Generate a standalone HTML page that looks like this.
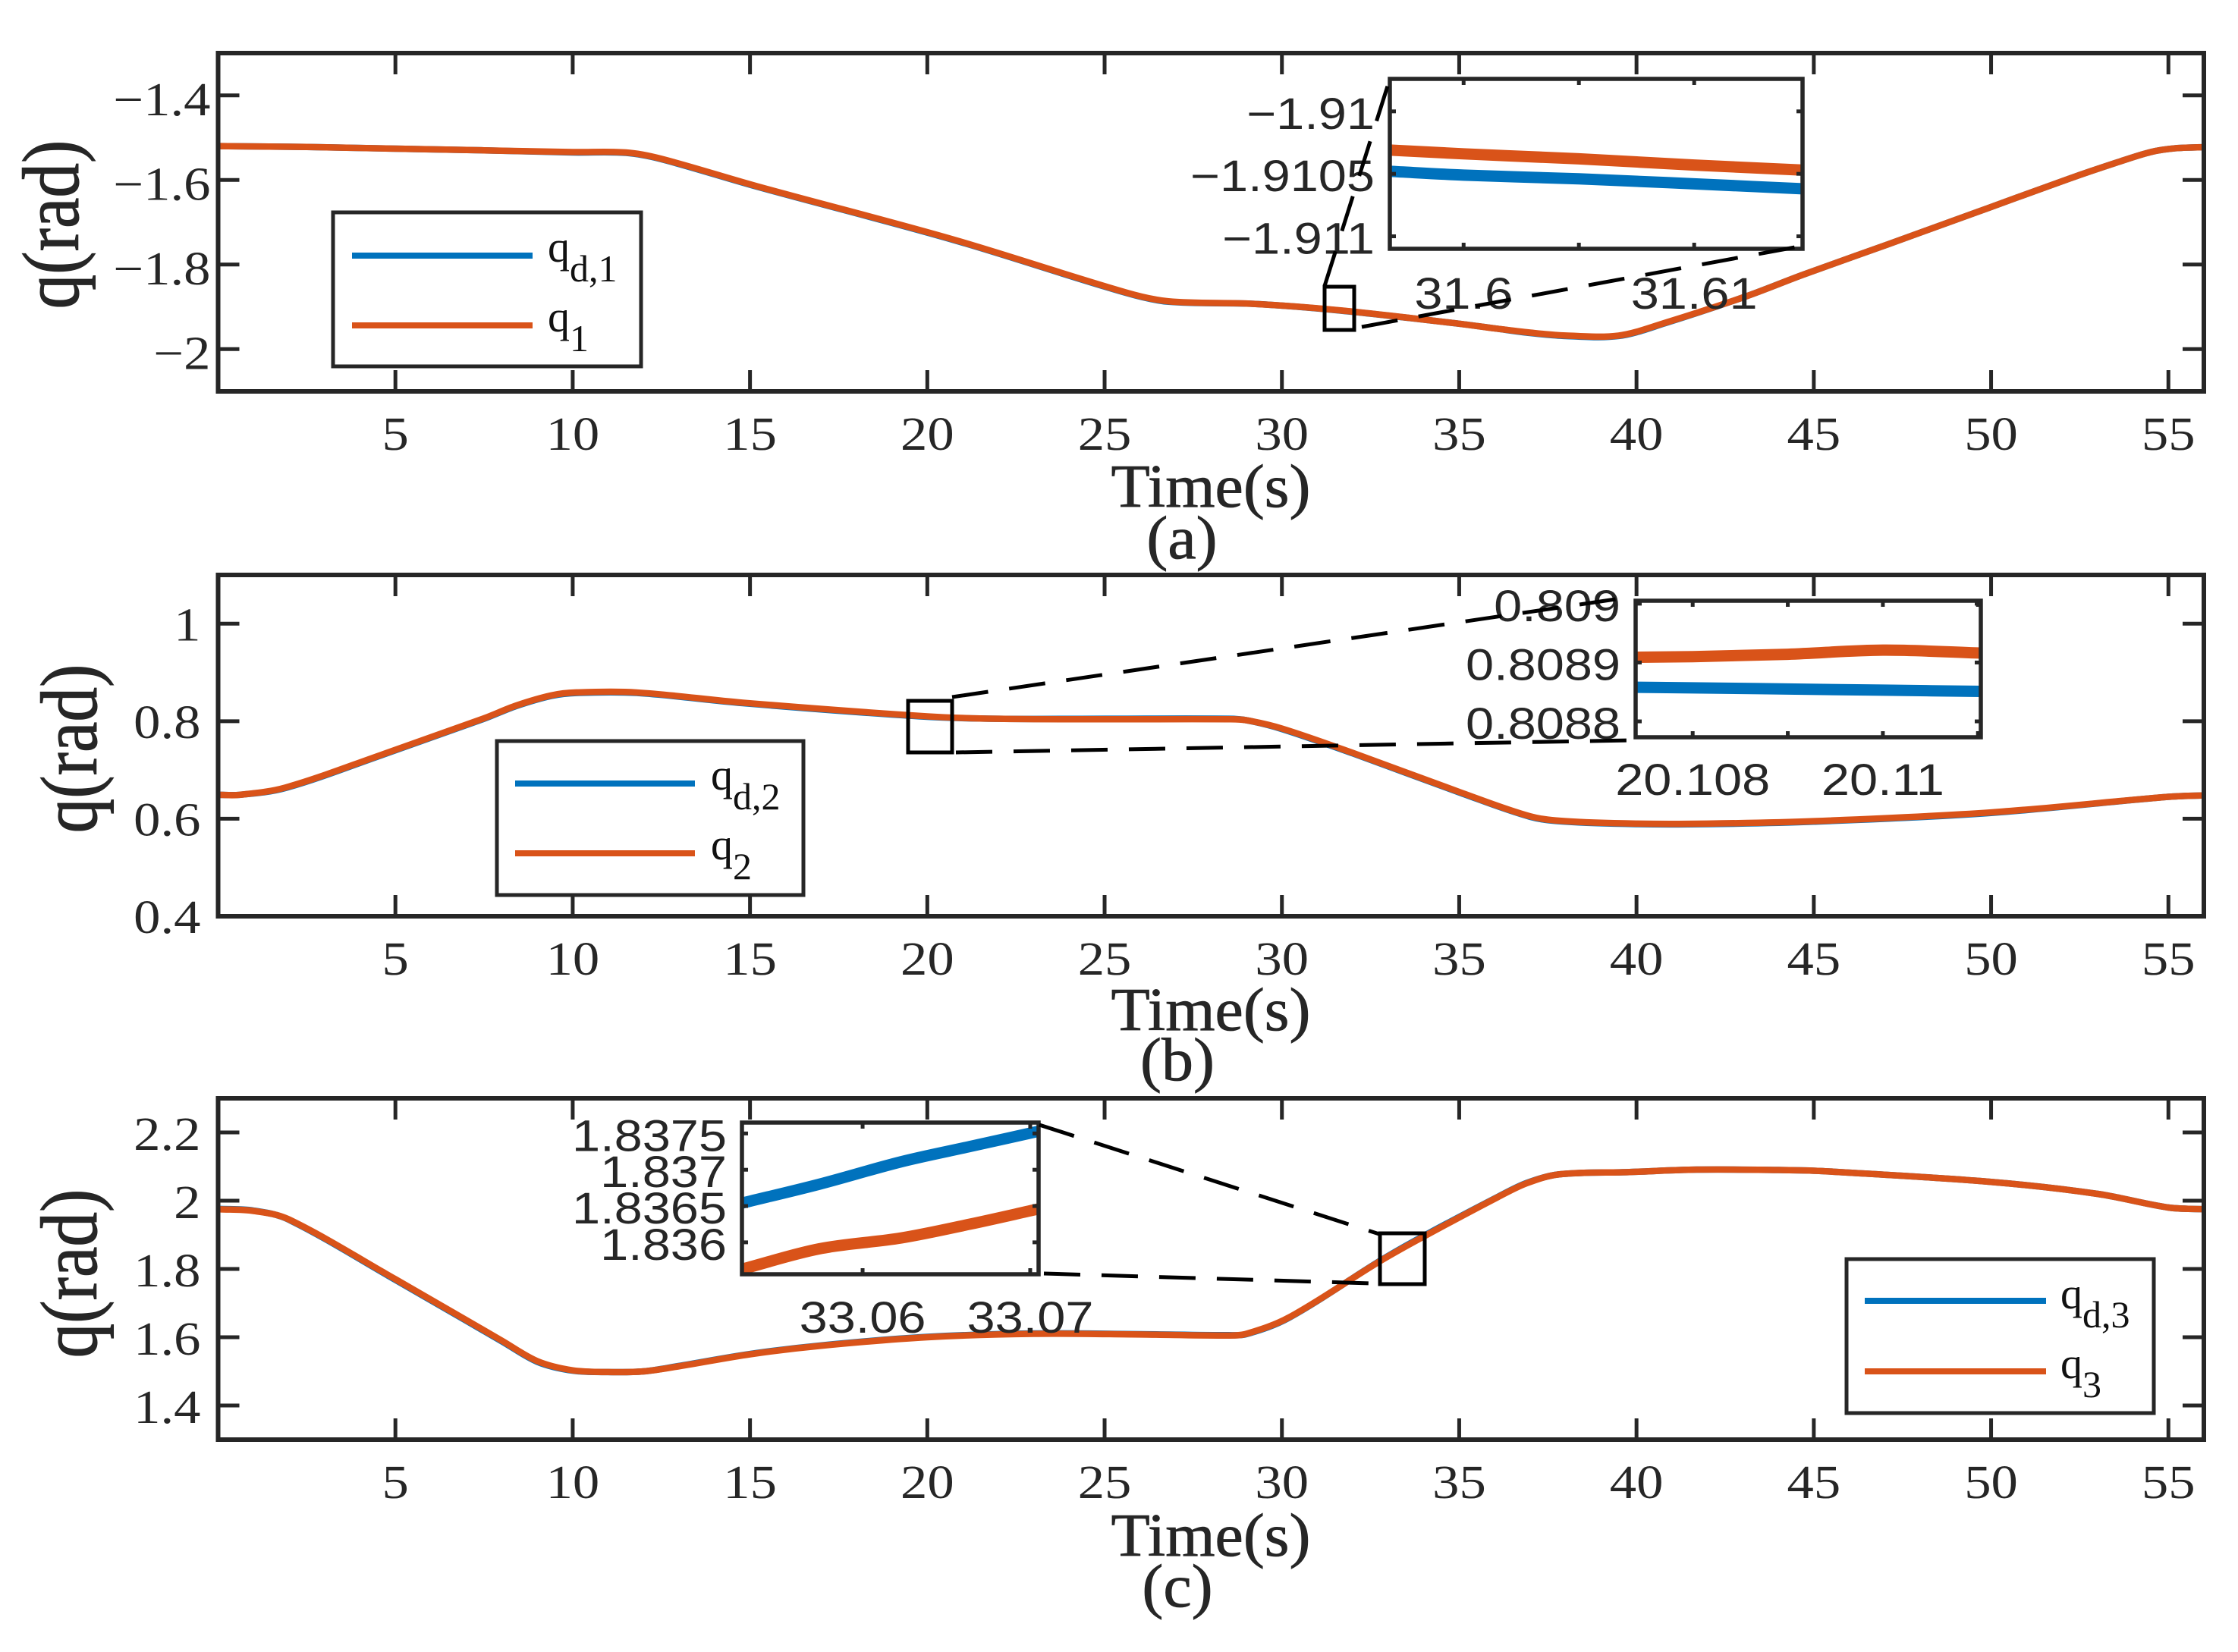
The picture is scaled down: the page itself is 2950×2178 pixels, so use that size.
<!DOCTYPE html>
<html>
<head>
<meta charset="utf-8">
<title>Joint position tracking</title>
<style>
html,body{margin:0;padding:0;background:#fff;}
svg{display:block;}
.serif{font-family:"Liberation Serif",serif;fill:#262626;}
.sans{font-family:"Liberation Sans",sans-serif;fill:#262626;}
.title{font-size:80px;stroke:#262626;stroke-width:0.8px;}
.leg{font-size:58px;fill:#111;}
.sub{font-size:50px;fill:#111;}
.dash{fill:none;stroke:#000;stroke-width:5;stroke-dasharray:48 28;}
.zoombox{fill:none;stroke:#000;stroke-width:5;}
.legbox{fill:#fff;stroke:#262626;stroke-width:5;}
</style>
</head>
<body>
<svg id="fig" xmlns="http://www.w3.org/2000/svg" width="2950" height="2178" viewBox="0 0 2950 2178">
  <rect width="2950" height="2178" fill="#fff"/>
  <g id="panels"></g>

  <g>
    <text class="serif title" transform="translate(103,296) rotate(-90) scale(1.14,1.32)" text-anchor="middle">q(rad)</text>
    <text class="serif title" transform="translate(127,987) rotate(-90) scale(1.14,1.32)" text-anchor="middle">q(rad)</text>
    <text class="serif title" transform="translate(127,1679) rotate(-90) scale(1.14,1.32)" text-anchor="middle">q(rad)</text>
    <text class="serif title" transform="translate(1596,668) scale(1.05,1)" text-anchor="middle">Time(s)</text>
    <text class="serif title" transform="translate(1596,1358) scale(1.05,1)" text-anchor="middle">Time(s)</text>
    <text class="serif title" transform="translate(1596,2051) scale(1.05,1)" text-anchor="middle">Time(s)</text>
    <text class="serif title" transform="translate(1558,736) scale(1.05,1)" text-anchor="middle">(a)</text>
    <text class="serif title" transform="translate(1552,1424) scale(1.05,1)" text-anchor="middle">(b)</text>
    <text class="serif title" transform="translate(1552,2118) scale(1.05,1)" text-anchor="middle">(c)</text>
  </g>

  <g>
    <rect class="legbox" x="439" y="280" width="406" height="203"/>
    <line x1="464" x2="702" y1="337" y2="337" stroke="#0072BD" stroke-width="8"/>
    <line x1="464" x2="702" y1="429" y2="429" stroke="#D95319" stroke-width="8"/>
    <text class="serif leg" x="722" y="345">q<tspan class="sub" dy="26">d,1</tspan></text>
    <text class="serif leg" x="722" y="437">q<tspan class="sub" dy="26">1</tspan></text>
  </g>
  <g>
    <rect class="legbox" x="655" y="977" width="404" height="203"/>
    <line x1="679" x2="916" y1="1033" y2="1033" stroke="#0072BD" stroke-width="8"/>
    <line x1="679" x2="916" y1="1125" y2="1125" stroke="#D95319" stroke-width="8"/>
    <text class="serif leg" x="937" y="1041">q<tspan class="sub" dy="26">d,2</tspan></text>
    <text class="serif leg" x="937" y="1133">q<tspan class="sub" dy="26">2</tspan></text>
  </g>
  <g>
    <rect class="legbox" x="2434" y="1660" width="405" height="203"/>
    <line x1="2458" x2="2697" y1="1715" y2="1715" stroke="#0072BD" stroke-width="8"/>
    <line x1="2458" x2="2697" y1="1808" y2="1808" stroke="#D95319" stroke-width="8"/>
    <text class="serif leg" x="2716" y="1725">q<tspan class="sub" dy="25">d,3</tspan></text>
    <text class="serif leg" x="2716" y="1817">q<tspan class="sub" dy="25">3</tspan></text>
  </g>

  <g id="insets"></g>

  <g>
    <rect class="zoombox" x="1746" y="378" width="39" height="57"/>
    <line class="dash" x1="1746" y1="377" x2="1832" y2="104"/>
    <line class="dash" x1="1795" y1="431" x2="2366" y2="326"/>
    <rect class="zoombox" x="1197" y="924" width="58" height="68"/>
    <line class="dash" x1="1255" y1="919" x2="2150" y2="787"/>
    <line class="dash" x1="1260" y1="992" x2="2148" y2="976"/>
    <rect class="zoombox" x="1819" y="1626" width="59" height="67"/>
    <line class="dash" x1="1370" y1="1483" x2="1818" y2="1627"/>
    <line class="dash" x1="1376" y1="1679" x2="1808" y2="1692"/>
  </g>
</svg>
<script>
// Shared tick labels
const timeTicks = [5,10,15,20,25,30,35,40,45,50,55];

// Panel (a)
const timeA = [0,2.5,5,7.5,10,11.5,12.5,15.2,20.7,25.6,26.8,29.2,31.6,35,36,37,38,39.5,40.8,43.1,44.7,47.1,49.9,52.2,53.5,54.5,55.2,56];
const qA    = [-1.52,-1.522,-1.526,-1.53,-1.534,-1.535,-1.55,-1.615,-1.74,-1.866,-1.887,-1.893,-1.908,-1.94,-1.951,-1.961,-1.968,-1.968,-1.938,-1.875,-1.824,-1.752,-1.667,-1.597,-1.56,-1.534,-1.525,-1.5225];
const qdA   = [-1.52,-1.522,-1.526,-1.53,-1.535,-1.536,-1.551,-1.616,-1.741,-1.867,-1.888,-1.893,-1.9085,-1.94,-1.951,-1.962,-1.969,-1.969,-1.939,-1.875,-1.824,-1.752,-1.667,-1.597,-1.56,-1.534,-1.525,-1.5225];
const yTicksA = [-2,-1.8,-1.6,-1.4];
const yLabelsA = ['\u22122','\u22121.8','\u22121.6','\u22121.4'];

// Panel (b)
const timeB = [0,0.6,1.9,4.6,7.5,8.4,9.4,10.1,11.8,14.8,20,22,25,28.5,29,30,32,35,37,38,40,42,45,50,55,56];
const qB    = [0.649,0.649,0.664,0.731,0.806,0.832,0.853,0.859,0.859,0.838,0.81,0.805,0.804,0.804,0.802,0.785,0.735,0.655,0.605,0.595,0.59,0.59,0.595,0.613,0.645,0.648];
const qdB   = [0.649,0.649,0.663,0.73,0.805,0.831,0.852,0.858,0.858,0.837,0.809,0.805,0.805,0.805,0.802,0.784,0.734,0.654,0.604,0.594,0.589,0.589,0.594,0.612,0.645,0.648];
const yTicksB = [0.4,0.6,0.8,1];
const yLabelsB = ['0.4','0.6','0.8','1'];

// Panel (c)
const timeC = [0,1,2,5,8,9,10,11,12,13,15,17,20,23,26,28.5,29,30.2,32.8,34,36.1,36.9,37.8,39.8,41.7,44,45.2,50,53,55,56];
const qC    = [1.975,1.97,1.945,1.77,1.59,1.53,1.503,1.498,1.50,1.515,1.55,1.575,1.60,1.61,1.608,1.605,1.61,1.658,1.825,1.895,2.011,2.051,2.077,2.084,2.091,2.09,2.087,2.055,2.02,1.98,1.975];
const qdC   = [1.976,1.971,1.944,1.768,1.588,1.528,1.502,1.498,1.50,1.516,1.551,1.576,1.601,1.611,1.609,1.606,1.609,1.657,1.826,1.897,2.012,2.052,2.077,2.084,2.091,2.09,2.087,2.055,2.02,1.98,1.975];
const yTicksC = [1.4,1.6,1.8,2,2.2];
const yLabelsC = ['1.4','1.6','1.8','2','2.2'];

// Inset (a)
const insetTimeA  = [31.5968,31.6,31.605,31.61,31.6147];
const insetQA     = [-1.91031,-1.91034,-1.91038,-1.91043,-1.91047];
const insetQdA    = [-1.91048,-1.91051,-1.91054,-1.91058,-1.91062];
const insetXTicksA = [31.6,31.605,31.61];
const insetXLabelsA = ['31.6','','31.61'];
const insetYTicksA = [-1.911,-1.9105,-1.91];
const insetYLabelsA = ['\u22121.911','\u22121.9105','\u22121.91'];

// Inset (b)
const insetTimeB  = [20.1074,20.108,20.109,20.11,20.11103];
const insetQB     = [0.808909,0.80891,0.808914,0.808921,0.808916];
const insetQdB    = [0.808858,0.808857,0.808855,0.808853,0.808851];
const insetXTicksB = [20.108,20.109,20.11,20.111];
const insetXLabelsB = ['20.108','','20.11',''];
const insetYTicksB = [0.8088,0.8089,0.809];
const insetYLabelsB = ['0.8088','0.8089','0.809'];

// Inset (c)
const insetTimeC  = [33.0528,33.0574,33.0623,33.0664,33.0705];
const insetQC     = [1.83563,1.83591,1.83606,1.83625,1.83646];
const insetQdC    = [1.83654,1.8368,1.83711,1.83732,1.83753];
const insetXTicksC = [33.06,33.07];
const insetXLabelsC = ['33.06','33.07'];
const insetYTicksC = [1.836,1.8365,1.837,1.8375];
const insetYLabelsC = ['1.836','1.8365','1.837','1.8375'];

const NS = 'http://www.w3.org/2000/svg';
const INK = '#262626', BLUE = '#0072BD', ORANGE = '#D95319';

function node(tag, parent, name) {
  const el = document.createElementNS(NS, tag);
  
  
  parent.appendChild(el);
  return el;
}
function scale(d0, d1, r0, r1) {
  return v => r0 + (v - d0) / (d1 - d0) * (r1 - r0);
}
function smoothPath(xs, ys) {
  let d = 'M' + xs[0].toFixed(2) + ' ' + ys[0].toFixed(2);
  for (let i = 0; i < xs.length - 1; i++) {
    const a = Math.max(i - 1, 0), b = Math.min(i + 2, xs.length - 1);
    const dx = xs[i + 1] - xs[i];
    const m1 = (ys[i + 1] - ys[a]) / (xs[i + 1] - xs[a]);
    const m2 = (ys[b] - ys[i]) / (xs[b] - xs[i]);
    d += ' C' + (xs[i] + dx / 3).toFixed(2) + ' ' + (ys[i] + m1 * dx / 3).toFixed(2) + ' ' +
         (xs[i + 1] - dx / 3).toFixed(2) + ' ' + (ys[i + 1] - m2 * dx / 3).toFixed(2) + ' ' +
         xs[i + 1].toFixed(2) + ' ' + ys[i + 1].toFixed(2);
  }
  return d;
}
function tick(g, name, x1, y1, x2, y2, w) {
  const l = node('line', g, name);
  l.setAttribute('x1', x1); l.setAttribute('y1', y1);
  l.setAttribute('x2', x2); l.setAttribute('y2', y2);
  l.setAttribute('stroke', INK); l.setAttribute('stroke-width', w);
}
function series(g, name, clipId, px, py, ts, vs, color, w) {
  const p = node('path', g, name);
  p.setAttribute('d', smoothPath(ts.map(px), vs.map(py)));
  p.setAttribute('fill', 'none');
  p.setAttribute('stroke', color);
  p.setAttribute('stroke-width', w);
  p.setAttribute('clip-path', 'url(#' + clipId + ')');
}
function clip(svg, id, L, T, R, B) {
  const c = document.createElementNS(NS, 'clipPath');
  c.setAttribute('id', id);
  const r = document.createElementNS(NS, 'rect');
  r.setAttribute('x', L); r.setAttribute('y', T);
  r.setAttribute('width', R - L); r.setAttribute('height', B - T);
  c.appendChild(r);
  svg.appendChild(c);
}

const svg = document.getElementById('fig');
const panelsG = document.getElementById('panels');
const insetsG = document.getElementById('insets');

function drawPanel(o) {
  const g = node('g', panelsG, 'panel-' + o.id);
  const px = scale(0, 56, o.L, o.R), py = scale(o.y0, o.y1, o.B, o.T);
  clip(svg, 'clip-' + o.id, o.L, o.T, o.R, o.B);
  series(g, 'series-qd-' + o.id, 'clip-' + o.id, px, py, o.t, o.qd, BLUE, 8.5);
  series(g, 'series-q-' + o.id, 'clip-' + o.id, px, py, o.t, o.q, ORANGE, 8.5);
  const box = node('rect', g, 'axes-box-' + o.id);
  box.setAttribute('x', o.L); box.setAttribute('y', o.T);
  box.setAttribute('width', o.R - o.L); box.setAttribute('height', o.B - o.T);
  box.setAttribute('fill', 'none'); box.setAttribute('stroke', INK); box.setAttribute('stroke-width', 6);
  timeTicks.forEach(v => {
    tick(g, 'x-tick-bottom', px(v), o.B, px(v), o.B - 28, 5);
    tick(g, 'x-tick-top', px(v), o.T, px(v), o.T + 28, 5);
    const t = node('text', g, 'x-tick-label');
    t.setAttribute('class', 'serif');
    t.setAttribute('font-size', 62);
    t.setAttribute('text-anchor', 'middle');
    t.setAttribute('transform', 'translate(' + px(v) + ',' + (o.B + 77) + ') scale(1.14,1)');
    t.textContent = v;
  });
  o.yt.forEach((v, i) => {
    tick(g, 'y-tick-left', o.L, py(v), o.L + 28, py(v), 5);
    tick(g, 'y-tick-right', o.R, py(v), o.R - 28, py(v), 5);
    const t = node('text', g, 'y-tick-label');
    t.setAttribute('class', 'serif');
    t.setAttribute('font-size', 62);
    t.setAttribute('text-anchor', 'end');
    t.setAttribute('transform', 'translate(' + (o.L - o.pad) + ',' + (py(v) + o.dy) + ') scale(1.14,1)');
    t.textContent = o.yl[i];
  });
}

function drawInset(o) {
  const g = node('g', insetsG, 'inset-' + o.id);
  const bg = node('rect', g, 'inset-background-' + o.id);
  bg.setAttribute('x', o.L); bg.setAttribute('y', o.T);
  bg.setAttribute('width', o.R - o.L); bg.setAttribute('height', o.B - o.T);
  bg.setAttribute('fill', '#fff');
  const px = scale(o.x0, o.x1, o.L, o.R), py = scale(o.y0, o.y1, o.B, o.T);
  clip(svg, 'clip-inset-' + o.id, o.L, o.T, o.R, o.B);
  series(g, 'inset-series-qd-' + o.id, 'clip-inset-' + o.id, px, py, o.t, o.qd, BLUE, 15);
  series(g, 'inset-series-q-' + o.id, 'clip-inset-' + o.id, px, py, o.t, o.q, ORANGE, 15);
  const box = node('rect', g, 'inset-box-' + o.id);
  box.setAttribute('x', o.L); box.setAttribute('y', o.T);
  box.setAttribute('width', o.R - o.L); box.setAttribute('height', o.B - o.T);
  box.setAttribute('fill', 'none'); box.setAttribute('stroke', INK); box.setAttribute('stroke-width', 5.5);
  o.xt.forEach((v, i) => {
    tick(g, 'inset-x-tick', px(v), o.B, px(v), o.B - 8, 5);
    tick(g, 'inset-x-tick', px(v), o.T, px(v), o.T + 8, 5);
    if (o.xl[i]) {
      const t = node('text', g, 'inset-x-tick-label');
      t.setAttribute('class', 'sans');
      t.setAttribute('font-size', 58);
      t.setAttribute('text-anchor', 'middle');
      t.setAttribute('transform', 'translate(' + px(v) + ',' + o.xb + ') scale(1.15,1)');
      t.textContent = o.xl[i];
    }
  });
  o.yt.forEach((v, i) => {
    tick(g, 'inset-y-tick', o.L, py(v), o.L + 8, py(v), 5);
    tick(g, 'inset-y-tick', o.R, py(v), o.R - 8, py(v), 5);
    const t = node('text', g, 'inset-y-tick-label');
    t.setAttribute('class', 'sans');
    t.setAttribute('font-size', 58);
    t.setAttribute('text-anchor', 'end');
    t.setAttribute('transform', 'translate(' + (o.L - 20) + ',' + (py(v) + 23) + ') scale(1.15,1)');
    t.textContent = o.yl[i];
  });
}

drawPanel({id:'a', L:287.5, R:2905, T:70,   B:516,  y0:-2.1, y1:-1.3, t:timeA, q:qA, qd:qdA, yt:yTicksA, yl:yLabelsA, pad:10, dy:26});
drawPanel({id:'b', L:287.5, R:2905, T:758,  B:1208, y0:0.4,  y1:1.1,  t:timeB, q:qB, qd:qdB, yt:yTicksB, yl:yLabelsB, pad:23, dy:22});
drawPanel({id:'c', L:287.5, R:2905, T:1448, B:1898, y0:1.3,  y1:2.3,  t:timeC, q:qC, qd:qdC, yt:yTicksC, yl:yLabelsC, pad:23, dy:23});

drawInset({id:'a', L:1832, R:2376, T:104, B:328, x0:31.5968, x1:31.6147, y0:-1.9111, y1:-1.90974, t:insetTimeA, q:insetQA, qd:insetQdA, xt:insetXTicksA, xl:insetXLabelsA, yt:insetYTicksA, yl:insetYLabelsA, xb:407});
drawInset({id:'b', L:2156, R:2611, T:792, B:972, x0:20.1074, x1:20.11103, y0:0.808773, y1:0.809005, t:insetTimeB, q:insetQB, qd:insetQdB, xt:insetXTicksB, xl:insetXLabelsB, yt:insetYTicksB, yl:insetYLabelsB, xb:1048});
drawInset({id:'c', L:978, R:1369, T:1480, B:1680, x0:33.0528, x1:33.0705, y0:1.83556, y1:1.83765, t:insetTimeC, q:insetQC, qd:insetQdC, xt:insetXTicksC, xl:insetXLabelsC, yt:insetYTicksC, yl:insetYLabelsC, xb:1757});
</script>
</body>
</html>
